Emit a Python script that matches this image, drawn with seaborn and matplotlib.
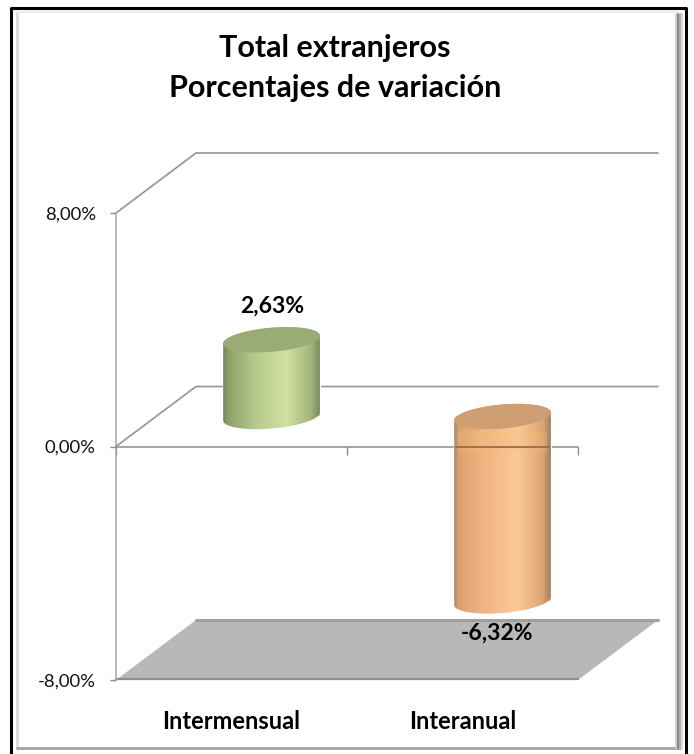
import numpy as np
import pandas as pd
import seaborn as sns
import matplotlib.pyplot as plt
from matplotlib.colors import LinearSegmentedColormap
from matplotlib.patches import Ellipse, Polygon
from matplotlib.path import Path
from matplotlib.lines import Line2D
from matplotlib.transforms import IdentityTransform

categories = ['Intermensual', 'Interanual']
values = [2.63, -6.32]
y_ticks = [-8, 0, 8]
y_labels = ['-8,00%', '0,00%', '8,00%']
title = 'Total extranjeros\nPorcentajes de variación'

W, H = 694, 754
bar_colors = ['#b4c78a', '#f0b682']
top_colors = ['#9aab75', '#cf9f74']
stops = [0, 0.05, 0.3, 0.65, 0.9, 1]
side_colors = [['#76885a', '#8c9f66', '#b4c78a', '#d0e09f', '#a3b67a', '#76885a'],
               ['#b08a66', '#dba26f', '#efb582', '#fcc998', '#dfa674', '#9c7c60']]

sns.set_style('white')
plt.rcParams['font.family'] = ['Lato', 'DejaVu Sans']

fig = plt.figure(figsize=(W / 100, H / 100), dpi=100, facecolor='white')
idt = IdentityTransform()


def rect(x0, top, x1, bottom):
    # axes box from picture pixels
    return [x0 / W, 1 - bottom / H, (x1 - x0) / W, (bottom - top) / H]


# frame with the soft inner shadow
for x0, y0, x1, y1, c, lw in [(17, 13, 17, 748, '#dcdcdc', 3),
                              (17, 12, 678, 12, '#ececec', 2),
                              (17, 748, 680, 748, '#a8a8a8', 3),
                              (682, 14, 682, 748, '#d8d8d8', 2),
                              (680, 14, 680, 748, '#b0b0b0', 2),
                              (678, 14, 678, 748, '#8a8a8a', 2),
                              (676, 14, 676, 748, '#cfcfcf', 2)]:
    fig.add_artist(Line2D([x0, x1], [H - y0, H - y1], transform=idt, color=c, lw=lw * 0.72))
fig.add_artist(Line2D([10.5, 10.5, 686, 686], [0, H - 7.5, H - 7.5, 0], transform=idt,
                      color='black', lw=2.2))

# front plane of the 3d box
ax = fig.add_axes(rect(116, 213, 578, 680))
ax.patch.set_alpha(0)
ax.set_xlim(-0.5, 1.5)
ax.set_ylim(-8, 8)
sns.despine(ax=ax, top=True, right=True, left=False, bottom=False)
ax.spines['bottom'].set_position(('data', 0))
ax.spines['left'].set_color('#a6a6a6')
ax.spines['bottom'].set_color('#8c8c8c')
ax.spines['left'].set_linewidth(1.1)
ax.spines['bottom'].set_linewidth(1.1)
ax.set_yticks(y_ticks, labels=y_labels)
ax.set_xticks([-0.5, 0.5, 1.5], labels=['', '', ''])
ax.set_xticks([0, 1], labels=categories, minor=True)
ax.tick_params(axis='y', which='major', length=4.5, width=1, color='#8c8c8c', left=True, pad=10,
               labelsize=13.3, labelcolor='#111111')
ax.tick_params(axis='x', which='major', length=5.5, width=1, color='#8c8c8c', bottom=True, direction='out')
ax.tick_params(axis='x', which='minor', length=0, pad=190, labelsize=17, labelcolor='black')
for lab in ax.get_xminorticklabels():
    lab.set_fontweight('bold')

# walls and floor, pushed back from the front plane
dx, dy = 80, 60
for v in [8, 0]:
    x0, y0 = ax.transData.transform((-0.5, v))
    x1, _ = ax.transData.transform((1.5, v))
    fig.add_artist(Line2D([x0, x0 + dx, x1 + dx], [y0, y0 + dy, y0 + dy], transform=idt,
                          color='#949494', lw=1.2, zorder=-1))
fx0, fy = ax.transData.transform((-0.5, -8))
fx1, _ = ax.transData.transform((1.5, -8))
fig.add_artist(Polygon([(fx0, fy), (fx1, fy), (fx1 + dx, fy + dy), (fx0 + dx, fy + dy)],
                       transform=idt, facecolor='#b8b8b8', edgecolor='none', zorder=-1))
fig.add_artist(Line2D([fx0 + dx, fx1 + dx], [fy + dy, fy + dy], transform=idt, color='#a0a0a0', lw=2.2, zorder=-0.5))
fig.add_artist(Line2D([fx0, fx1], [fy + 1, fy + 1], transform=idt, color='#8f8f8f', lw=1.6, zorder=-0.5))

# bars sit half way into the box
ax_bar = fig.add_axes(rect(116 + dx / 2, 213 - dy / 2, 578 + dx / 2, 680 - dy / 2))
ax_bar.patch.set_alpha(0)
df = pd.DataFrame({'cat': categories, 'val': values})
sns.barplot(data=df, x='cat', y='val', hue='cat', palette=bar_colors, width=0.42,
            legend=False, saturation=1, ax=ax_bar)
ax_bar.set_xlim(-0.5, 1.5)
ax_bar.set_ylim(-8, 8)
ax_bar.axis('off')


def ring(cx, cy, a, b, t0, t1, tilt=np.radians(5)):
    t = np.linspace(t0, t1, 60)
    xs, ys = a * np.cos(t), b * np.sin(t)
    return np.column_stack([cx + xs * np.cos(tilt) - ys * np.sin(tilt),
                            cy + xs * np.sin(tilt) + ys * np.cos(tilt)])


for i, (patch, val) in enumerate(zip(ax_bar.patches, values)):
    x = patch.get_x()
    w = patch.get_width()
    low, high = min(0, val), max(0, val)
    xl, yl = ax_bar.transData.transform((x, low))
    xr, yh = ax_bar.transData.transform((x + w, high))
    cx = (xl + xr) / 2
    a = (xr - xl) / 2
    b = 12
    outline = np.vstack([ring(cx, yl, a, b, np.pi, 2 * np.pi), ring(cx, yh, a, b, 0, np.pi)])
    cmap = LinearSegmentedColormap.from_list('side', list(zip(stops, side_colors[i])))
    im = ax_bar.imshow(np.linspace(0, 1, 200)[None, :], cmap=cmap, aspect='auto',
                       extent=(x, x + w, low - 0.8, high + 0.8), zorder=3)
    im.set_clip_path(Path(np.vstack([outline, outline[:1]])), idt)
    ax_bar.add_patch(Ellipse((cx, yh), 2 * a, 2 * b, angle=5, transform=idt, facecolor=top_colors[i],
                             edgecolor='none', zorder=4))
    label = f'{val:.2f}%'.replace('.', ',')
    off = (1, 34) if val > 0 else (-5, -32)
    ax_bar.annotate(label, (i, val), xytext=(off[0] * 0.72, off[1] * 0.72), textcoords='offset points',
                    ha='center', va='center', fontsize=16.5, fontweight='bold', color='black', zorder=6,
                    annotation_clip=False)

# zero line seen through the orange bar, with the pale band around it
_, y0 = ax.transData.transform((0.5, 0))
px0 = ax_bar.patches[1].get_x()
bx0, _ = ax_bar.transData.transform((px0, 0))
bx1, _ = ax_bar.transData.transform((px0 + ax_bar.patches[1].get_width(), 0))
fig.add_artist(Polygon([(bx0 + 4, y0 - 5), (bx1 - 4, y0 - 5), (bx1 - 4, y0 + 16), (bx0 + 4, y0 + 16)],
                       transform=idt, facecolor='#f6c078', edgecolor='none', alpha=0.25, zorder=5))
fig.add_artist(Line2D([bx0 + 2, bx1 - 2], [y0, y0], transform=idt, color='#8a6a48', lw=1.2, zorder=5))

fig.text(335 / W, 1 - 68 / H, title, ha='center', va='center', fontsize=22, fontweight='bold',
         color='black', linespacing=1.5)

fig.savefig('out.png', dpi=100)
